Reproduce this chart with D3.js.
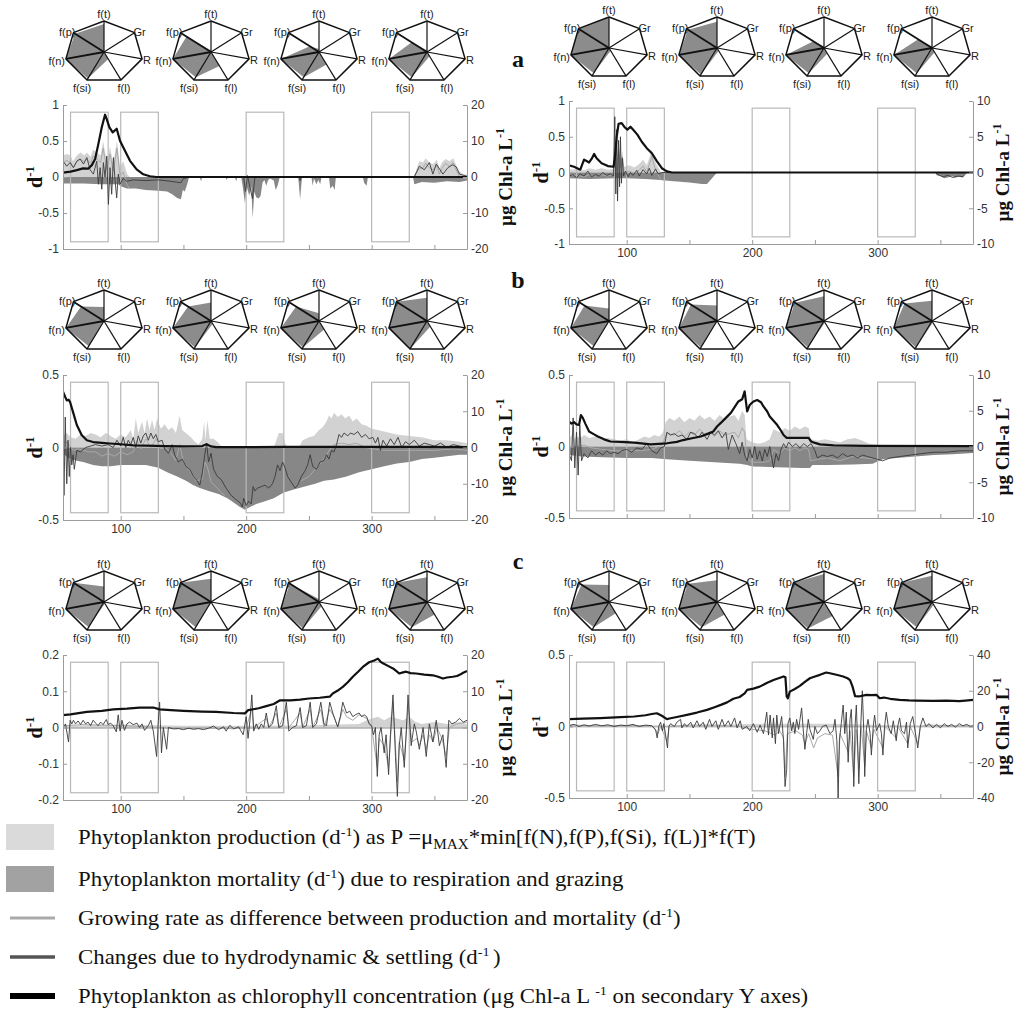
<!DOCTYPE html>
<html>
<head>
<meta charset="utf-8">
<script src="https://cdn.jsdelivr.net/npm/d3@7"></script>
<style>
  body { margin: 0; background: #fff; }
  svg { display: block; }
</style>
</head>
<body>
<svg id="fig" width="1016" height="1012"></svg>
<script>
// ---------- time axis (day of year) ----------
const dayDomain = [54, 376];
const dayTicks = [100, 150, 200, 250, 300, 350];
const boxSpans = [[60, 90], [100, 130], [200, 230], [300, 330]];

// ---------- radar charts: axes order and values (0..1) ----------
const radarAxes = ['f(t)', 'Gr', 'R', 'f(l)', 'f(si)', 'f(n)', 'f(p)'];
const radarA1 = [[0.9,0,0,0.25,0.95,1,0.95],[0.05,0,0,0.5,0.9,1,0.8],[0.1,0,0,0.45,0.9,1,0.3],[0.05,0,0,0.15,0.9,1,0.5]];
const radarA2 = [[1,0,0,0.1,0.9,1,1],[0.85,0,0,0.1,0.95,1,0.95],[0.05,0,0,0.2,0.9,1,0.35],[0.05,0,0,0.15,0.9,1,0.45]];
const radarB1 = [[0.45,0,0,0,0.9,1,0.75],[0.6,0,0,0.1,0.95,1,0.75],[0.25,0,0,0.3,0.95,1,0.75],[0.75,0,0,0.2,1,1,1]];
const radarB2 = [[0.4,0,0,0,0.9,1,0.8],[0.5,0,0,0,0.95,1,0.85],[0.8,0,0,0.05,0.95,1,0.95],[0.65,0,0,0.05,0.95,1,0.9]];
const radarC1 = [[0.5,0,0,0.05,0.9,1,1],[0.75,0,0,0,0.9,1,1],[0.1,0,0,0.15,0.95,1,0.95],[0.8,0,0,0.45,0.9,1,1]];
const radarC2 = [[0.55,0,0,0.4,0.9,1,0.9],[0.7,0,0,0.45,0.9,1,0.95],[0.9,0,0,0.5,0.95,1,1],[0.85,0,0,0.1,0.9,1,1]];

// ---------- scenario a, left ----------
const prodA1 = [[54,0.3],[57,0.32],[60,0.3],[62,0.22],[65,0.3],[68,0.34],[71,0.3],[73,0.34],[76,0.28],[78,0.38],[81,0.34],[84,0.3],[86,0.5],[89,0.2],[91.5,0.42],[94,0.18],[97,0.5],[99.5,0.14],[102,0.22],[105,0.05],[107,0],[334,0],[336,0.12],[338,0.22],[341,0.2],[343,0.26],[346,0.2],[349,0.18],[352,0.24],[354,0.12],[356,0.2],[359,0.25],[362,0.22],[365,0.26],[367,0.18],[370,0.08],[373,0.04],[376,0.03]];
const mortA1 = [[54,-0.09],[70,-0.09],[85,-0.1],[98,-0.1],[100,-0.13],[105,-0.16],[112,-0.16],[120,-0.18],[130,-0.19],[137,-0.2],[141,-0.24],[145,-0.29],[148,-0.31],[149.5,-0.18],[151,-0.2],[153,-0.1],[154.5,0],[163,0],[164,-0.06],[165,0],[183.5,0],[184.5,-0.04],[185.5,0],[191,0],[192,-0.06],[193,0],[196,0],[197,-0.1],[199,-0.36],[200.5,-0.14],[202.5,-0.26],[204,-0.12],[205.2,-0.57],[206.5,-0.2],[208,-0.28],[210,-0.3],[211.5,-0.26],[213,-0.08],[214.5,-0.04],[216,-0.12],[217.5,-0.04],[219,-0.02],[222,-0.05],[223.5,-0.18],[225,-0.12],[226.5,-0.02],[227,0],[241.5,0],[243,-0.31],[244.5,0],[252,0],[253,-0.12],[254,-0.02],[256,-0.1],[257.5,-0.04],[259,-0.1],[260,0],[266,0],[267,-0.16],[269,-0.12],[270.5,-0.18],[271.5,0],[293,0],[294,-0.08],[296,-0.12],[297,0],[333,0],[334,-0.1],[340,-0.07],[350,-0.08],[360,-0.06],[370,-0.07],[376,-0.05]];
const growA1 = [[54,0.2],[57,0.23],[60,0.2],[62.3,0.13],[65,0.21],[68,0.25],[71,0.21],[73,0.25],[76,0.19],[78,0.29],[81,0.25],[84,0.2],[86,0.4],[89,0.1],[91.5,0.32],[94,0.08],[97,0.4],[99.5,0.02],[102,0.07],[105,-0.11],[107,-0.16],null,[334,0.02],[338,0.12],[341,0.13],[343,0.19],[346,0.13],[349,0.1],[352,0.16],[354,0.04],[356,0.12],[359,0.19],[362,0.15],[365,0.2],[367,0.11],[370,0.01],[373,-0.02],[376,-0.02]];
const chgA1 = [[54,0.22],[57,0.15],[59.7,0.2],[62.3,0.13],[65,0.22],[67.6,0.25],[70.3,0.18],[73,0.27],[75.6,0.1],[78.2,0.04],[80.9,0.22],[82.2,-0.1],[83.6,0.13],[84.9,-0.17],[86.2,0.2],[87.5,0],[88.9,0.29],[90.2,-0.38],[91.5,0.13],[92.8,-0.24],[94.2,0.27],[95.5,-0.05],[96.8,-0.29],[98.1,0.04],[99.5,-0.1],[102,-0.02],[104.8,-0.06],[110,-0.04],[120,-0.05],[130,-0.04],[140,-0.06],[148,-0.08],[150,-0.02],[155,0],[198,0],[199.5,-0.2],[201,0.02],[205,-0.3],[207,0],[242,0],[243,-0.05],[244,0],[334,0],[338,0.15],[342,0.1],[346,0.2],[348.8,0.04],[351.5,0.18],[356.8,0.04],[360.8,0.13],[364.7,0.17],[367.4,0.14],[370,0.04],[376,0.01]];
const chlA1 = [[54,1.2],[60,1.5],[65,1.9],[70,2.4],[74,2.3],[77,3.3],[79.6,5],[82.2,9.2],[84.9,13.8],[87.5,17.3],[88.9,16],[91,13.8],[93.6,12.4],[96.8,13.4],[99.5,10],[102.7,7.8],[107.4,4.5],[112.7,2.1],[118,0.75],[123.3,0.2],[128.6,0],[376,0]];

// ---------- scenario a, right ----------
const prodA2 = [[54,0.04],[60,0.05],[66,0.03],[70,0.06],[75,0.04],[80,0.06],[85,0.04],[89,0.05],[90.5,0.3],[92,0.1],[93.5,0.4],[95,0.15],[96.5,0.3],[98,0.08],[102,0.1],[106,0.07],[110,0.12],[113,0.18],[116,0.1],[118,0.2],[120,0.32],[122,0.18],[124,0.1],[126,0.05],[127,0],[376,0]];
const mortA2 = [[54,-0.08],[70,-0.09],[90,-0.08],[100,-0.08],[115,-0.09],[124,-0.1],[135,-0.12],[150,-0.14],[160,-0.16],[164,-0.16],[172,0],[346,0],[347,-0.04],[350,-0.05],[353,-0.08],[356,-0.07],[359,-0.05],[362,-0.07],[365,-0.06],[368,-0.07],[369.5,-0.02],[371,0],[376,0]];
const growA2 = [[54,-0.04],[60,-0.04],[66,-0.06],[70,-0.03],[75,-0.05],[80,-0.03],[85,-0.05],[89,-0.03],[90.5,0.22],[92,0.02],[93.5,0.32],[95,0.07],[96.5,0.22],[98,0],[102,0.02],[106,-0.01],[110,0.03],[113,0.09],[116,0.01],[118,0.11],[120,0.23],[122,0.09],[124,0],[126,-0.06],[127,-0.1]];
const chgA2 = [[54,-0.05],[57,-0.03],[60,-0.07],[63,-0.02],[66,-0.05],[69,0.02],[72,-0.06],[75,-0.03],[78,-0.05],[81,0],[84,-0.04],[87,-0.02],[89.5,-0.05],[90.5,0.78],[91.3,-0.3],[92,0.6],[92.7,-0.4],[93.5,0.45],[94.3,-0.2],[95,0.5],[95.8,-0.15],[96.5,0.2],[97.5,-0.05],[99,0.02],[101,-0.06],[103,0],[105,-0.04],[108,0.03],[110,-0.05],[113,0.04],[116,-0.02],[118,0.06],[120,-0.04],[123,0.05],[125,-0.02],[128,0],[132,0],[346,0],[348,-0.03],[352,-0.06],[356,-0.04],[360,-0.07],[364,-0.05],[368,-0.06],[371,0],[376,0]];
const chlA2 = [[54,1.0],[58,0.8],[63,0.4],[66,1.8],[68,1.6],[70,1.4],[72,1.9],[74,2.6],[76,2.0],[80,1.3],[85,0.9],[89.5,0.8],[90.5,2.0],[92,5.0],[93.5,6.8],[96,6.9],[98,6.4],[100.5,6.0],[103,6.4],[105,6.0],[108.5,5.3],[112,4.3],[116,3.4],[120,2.7],[124,1.6],[128,0.6],[132,0.15],[136,0],[376,0]];

// ---------- scenario b, left ----------
const prodB1 = [[54,0.08],[57,0.1],[60,0.07],[64,0.06],[68,0.09],[72,0.08],[76,0.1],[80,0.09],[84,0.07],[88,0.1],[92,0.08],[96,0.06],[100,0.09],[104,0.07],[108,0.12],[110,0.06],[112,0.2],[114,0.1],[117,0.18],[119,0.1],[121,0.2],[123,0.12],[125,0.19],[127,0.12],[129,0.2],[132,0.13],[135,0.16],[138,0.12],[141,0.14],[144,0.1],[147,0.22],[149,0.12],[152,0.1],[156,0.07],[159,0.04],[162,0.02],[165,0.06],[166.5,0.18],[167.5,0.05],[169,0.19],[171,0.06],[174,0.06],[177,0.04],[180,0.01],[183,0],[222,0],[224,0.05],[226,0.1],[229,0.1],[231,0.03],[233,0],[242,0],[245,0.05],[250,0.07],[254,0.08],[258,0.12],[261,0.14],[264,0.18],[266,0.22],[268,0.2],[270,0.24],[273,0.21],[276,0.23],[279,0.2],[282,0.22],[285,0.18],[288,0.2],[292,0.16],[296,0.15],[300,0.13],[305,0.12],[310,0.11],[315,0.1],[320,0.09],[330,0.08],[340,0.07],[350,0.05],[360,0.05],[370,0.04],[376,0.03]];
const mortB1 = [[54,-0.04],[58,-0.07],[64,-0.09],[70,-0.1],[78,-0.12],[85,-0.13],[92,-0.13],[100,-0.12],[110,-0.12],[120,-0.12],[130,-0.14],[137,-0.17],[145,-0.2],[152,-0.23],[158,-0.26],[163,-0.28],[170,-0.3],[178,-0.32],[185,-0.35],[190,-0.38],[195,-0.41],[199,-0.43],[203,-0.41],[208,-0.39],[215,-0.37],[222,-0.35],[230,-0.31],[238,-0.29],[246,-0.27],[255,-0.25],[262,-0.23],[270,-0.22],[280,-0.2],[290,-0.17],[300,-0.15],[310,-0.13],[320,-0.11],[330,-0.1],[340,-0.08],[350,-0.07],[360,-0.06],[370,-0.05],[376,-0.05]];
const growB1 = [[54,0.04],[58,0.03],[62,-0.02],[66,-0.01],[70,-0.02],[75,-0.03],[80,-0.03],[85,-0.06],[90,-0.04],[95,-0.06],[100,-0.03],[105,-0.05],[110,-0.03],[113,0.05],[116,-0.01],[120,0.06],[124,0],[128,0.06],[132,-0.01],[136,0],[140,-0.04],[144,-0.09],[147,0.02],[150,-0.1],[155,-0.16],[160,-0.23],[165,-0.22],[167,-0.1],[169,-0.13],[172,-0.24],[176,-0.27],[180,-0.31],[183,-0.33],null,[244,-0.23],[250,-0.2],[255,-0.15],[260,-0.1],[264,-0.05],[267,-0.01],[270,0.02],[276,0.03],[282,0.02],[288,0.03],[295,0],[302,-0.01],[310,-0.02],[320,-0.02],[335,-0.02],[350,-0.02],[365,-0.01],[376,-0.02]];
const chgB1 = [[54,0],[54.8,-0.33],[55.8,0.21],[57,-0.25],[58,0.05],[59,-0.2],[60,0],[61,-0.12],[62,-0.05],[63,-0.15],[65,-0.02],[68,-0.03],[72,0],[76,0.01],[80,0.02],[85,0.01],[90,0.02],[94,0],[97,0.05],[100,0.01],[102,0.07],[104,0],[106,0.05],[108,0.02],[110,0.07],[112,0],[114,0.08],[116,0.03],[118,0.08],[120,0.1],[122,0.05],[124,0.1],[126,0.06],[128,0.09],[130,0.04],[133,0.05],[135,-0.01],[138,-0.04],[141,0.02],[143,-0.05],[146,-0.1],[149,-0.08],[152,-0.13],[155,-0.15],[158,-0.2],[161,-0.23],[163,-0.26],[165,-0.18],[167,-0.05],[168.5,0.03],[170,-0.1],[172,-0.04],[174,-0.15],[177,-0.2],[180,-0.22],[184,-0.28],[188,-0.33],[192,-0.36],[195,-0.38],[197,-0.41],[198,-0.35],[200,-0.4],[202,-0.37],[204,-0.39],[205.5,-0.27],[207,-0.3],[209,-0.28],[212,-0.27],[215,-0.26],[218,-0.28],[221,-0.25],[223,-0.2],[225,-0.12],[227,-0.16],[229,-0.1],[231,-0.14],[233,-0.2],[236,-0.24],[239,-0.28],[241,-0.26],[244,-0.2],[247,-0.16],[249,-0.12],[251,-0.05],[253,-0.13],[256,-0.15],[259,-0.1],[262,-0.09],[264,-0.05],[266,-0.08],[268,-0.02],[270,-0.03],[272,0.02],[274,0.09],[276,0.07],[278,0.1],[281,0.08],[283,0.1],[286,0.09],[289,0.11],[292,0.07],[295,0.09],[298,0.06],[301,0.07],[303,0.03],[305,0.07],[307,-0.02],[309,0.05],[312,0.01],[315,0.06],[318,0.02],[321,0.07],[324,0],[327,0.04],[330,0.02],[334,0.05],[338,0.01],[342,0.03],[346,0.02],[350,0.01],[355,0.03],[360,0],[365,0.02],[370,0.01],[376,0]];
const chlB1 = [[54,15.4],[55.7,14],[57,13],[58.4,13.2],[59.7,12.5],[62.3,9.4],[65,6.2],[69,3.4],[73,2],[78,1.5],[85,1.3],[91.5,1.1],[100,0.9],[110,0.6],[120,0.5],[136,0.4],[150,0.3],[165,0.4],[168.4,0.9],[172,0.3],[176,0.1],[200,0.1],[230,0.15],[260,0.15],[300,0.2],[340,0.15],[376,0.1]];

// ---------- scenario b, right ----------
const prodB2 = [[54,0.05],[56,0.08],[58,0.05],[60,0.07],[63,0.06],[66,0.08],[70,0.06],[75,0.07],[80,0.05],[85,0.06],[90,0.05],[95,0.04],[100,0.05],[105,0.03],[110,0.05],[114,0.07],[118,0.06],[122,0.08],[126,0.07],[129,0.1],[131,0.17],[134,0.2],[138,0.18],[142,0.21],[146,0.17],[150,0.2],[154,0.18],[158,0.22],[162,0.19],[166,0.21],[170,0.18],[174,0.22],[178,0.19],[182,0.21],[186,0.22],[189,0.18],[192,0.25],[194,0.22],[195.5,0.05],[200,0.03],[205,0.02],[210,0.03],[214,0.05],[217,0.12],[222,0.1],[226,0.13],[230,0.11],[234,0.14],[238,0.12],[242,0.14],[245,0.13],[246.5,0.05],[252,0.04],[258,0.05],[264,0.04],[270,0.03],[276,0.05],[282,0.06],[288,0.04],[293,0.02],[300,0.01],[376,0.005]];
const mortB2 = [[54,-0.06],[65,-0.07],[80,-0.075],[100,-0.08],[120,-0.08],[132,-0.09],[150,-0.1],[170,-0.11],[190,-0.12],[196,-0.13],[200,-0.14],[220,-0.145],[240,-0.15],[246,-0.15],[248,-0.13],[260,-0.13],[280,-0.125],[296,-0.12],[304,-0.09],[315,-0.08],[330,-0.07],[345,-0.06],[360,-0.055],[376,-0.045]];
const growB2 = [[54,-0.01],[60,0],[66,0.01],[72,-0.01],[80,-0.02],[90,-0.03],[100,-0.03],[110,-0.03],[120,-0.02],[128,0.01],[132,0.09],[138,0.08],[142,0.11],[146,0.07],[150,0.1],[154,0.08],[158,0.12],[162,0.09],[166,0.1],[170,0.07],[174,0.11],[178,0.08],[182,0.09],[186,0.1],[189,0.06],[192,0.13],[194,0.1],[195.5,-0.08],[200,-0.11],[210,-0.11],[214,-0.1],[217,-0.02],[222,-0.05],[226,-0.01],[230,-0.03],[234,-0.01],[238,-0.03],[242,-0.01],[245,-0.02],[246.5,-0.1],[252,-0.09],[260,-0.08],[270,-0.1],[280,-0.07],[290,-0.08],[300,-0.09]];
const chgB2 = [[54,-0.05],[56,-0.1],[57.3,0.2],[58.6,-0.15],[60,0.1],[61.3,-0.2],[62.6,0.15],[64,-0.1],[66,-0.05],[69,-0.08],[72,-0.03],[75,-0.06],[78,-0.04],[81,-0.06],[84,-0.03],[87,-0.05],[90,-0.04],[93,-0.05],[96,-0.03],[100,-0.02],[104,-0.04],[108,-0.01],[112,-0.02],[116,0.02],[120,-0.03],[124,-0.05],[127,-0.01],[130,0],[132,0.1],[135,0.08],[138,0.09],[141,0.07],[144,0.08],[148,0.05],[151,0.1],[154,0.09],[157,0.06],[160,0.1],[164,0.05],[167,0.1],[170,0.08],[173,0.11],[176,0.06],[179,0.1],[181,-0.02],[184,0.08],[187,0.02],[190,-0.05],[192,0.03],[194,-0.06],[196,-0.1],[198,-0.02],[200,-0.08],[202,0],[204,-0.09],[206,-0.03],[208,-0.1],[210,-0.02],[212,-0.07],[214,0],[217,-0.15],[219,-0.05],[221,-0.1],[223,-0.02],[225,0.02],[227,-0.01],[229,0.03],[232,0],[235,0.02],[238,-0.01],[241,0.02],[244,0],[247,0.02],[250,-0.03],[252,-0.08],[256,-0.06],[260,-0.07],[264,-0.06],[268,-0.08],[272,-0.05],[276,-0.07],[280,-0.06],[284,-0.08],[288,-0.06],[292,-0.07],[296,-0.08],[300,-0.09],[304,-0.1],[310,-0.08],[318,-0.07],[326,-0.06],[335,-0.05],[345,-0.04],[355,-0.04],[365,-0.03],[376,-0.03]];
const chlB2 = [[54,3.5],[56,3.2],[58,3.4],[60,3.1],[62,3.0],[63.5,4.4],[65,4.0],[67,3.2],[70,2.1],[74,1.7],[77,1.4],[82,1.0],[87,0.7],[95,0.65],[106,0.55],[119,0.3],[132,0.45],[140,0.65],[145,0.9],[152,1.15],[159,1.4],[165,1.8],[169,2.1],[172,2.8],[175,3.3],[179,4.0],[183,4.7],[186,5.5],[189,6.3],[192,6.6],[194,7.7],[196,4.9],[198,5.8],[201,6.3],[204,6.5],[207,6.2],[209,5.6],[212,4.9],[214,4.2],[217,3.6],[220,3.0],[223,2.2],[225,1.6],[227.5,1.2],[245,1.2],[247,0.7],[250,0.5],[254,0.3],[265,0.15],[291,0.1],[376,0.05]];

// ---------- scenario c, left ----------
const prodC1 = [[54,0.005],[100,0.008],[150,0.005],[200,0.005],[250,0.006],[290,0.01],[296,0.02],[300,0.025],[305,0.03],[310,0.02],[315,0.03],[320,0.025],[325,0.02],[330,0.03],[335,0.015],[340,0.01],[350,0.015],[360,0.01],[370,0.015],[376,0.01]];
const mortC1 = [[54,-0.003],[376,-0.003]];
const growC1 = [[54,0.005],[70,0.008],[90,0.006],[110,0.004],[130,0],[150,-0.003],[170,-0.002],[190,-0.003],[200,0],[204.5,0.05],[206,0],[216,0.025],[218,0],[224,0.04],[226,0],[232,0.05],[234,0],[243,0.04],[245,0],[251,0.05],[253,0],[259.5,0.05],[262,0],[266.6,0.05],[270,0.03],[273,0],[277,0.05],[280,0.03],[285,0.02],[290,0.035],[296,0.025],[300,0],[304.5,-0.11],[306,-0.03],[310,-0.05],[313.5,-0.11],[315,-0.03],[317,0.07],[319,-0.05],[320.5,-0.15],[322,-0.04],[326,-0.09],[329,0.06],[332,-0.04],[336,-0.03],[338,-0.05],[341,-0.02],[343.5,-0.06],[346,-0.02],[349,-0.04],[352,0],[356,-0.03],[359.4,-0.08],[362,0],[368,0.01],[376,0.015]];
const chgC1 = [[54,0],[56,0.01],[58.4,-0.04],[59.7,0.02],[61,0.01],[62.3,0.02],[64,0.01],[66,0.018],[68,0.008],[70,0.02],[72,0.01],[74,0.015],[76,0.005],[78,0.02],[80,0.012],[82,0.005],[84,0.015],[86,0.008],[88.5,0.022],[90,0.008],[92,0.012],[94,0.005],[96.5,-0.012],[98,0.035],[99.5,-0.01],[101,0.02],[103,-0.008],[105,0.01],[107,0.015],[110,0.008],[113,0.012],[115,0],[117,0.01],[119,-0.008],[122,0.005],[124,0.02],[126,-0.01],[128.6,-0.08],[130,0.02],[131,0.07],[132.5,-0.07],[134,0],[136.6,-0.06],[138,0],[142,-0.004],[146,-0.003],[150,-0.006],[154,-0.002],[158,-0.005],[162,-0.003],[166,-0.006],[170,-0.002],[174,0.004],[178,-0.006],[182,0.002],[184,-0.01],[187,0.006],[190,-0.004],[194,0.002],[197.6,-0.02],[200,0.03],[201.5,-0.03],[203,0.02],[204.5,0.09],[206,-0.01],[208,0.01],[210,-0.005],[212,0.01],[214,0],[216,0.04],[218,0],[221,0.01],[224,0.06],[226,0],[229,0.005],[232,0.07],[234,-0.01],[237,0],[240,0.005],[243,0.055],[245,0],[248,0.005],[251,0.07],[253,0],[256,0.01],[259.5,0.07],[262,0.01],[264,0.005],[266.6,0.07],[269,0.04],[271,0.02],[273,0.002],[275,0.03],[277,0.07],[280,0.04],[282.5,0.045],[285,0.03],[287,0.035],[290,0.04],[292,0.03],[294,0.035],[296,0.03],[298,0.01],[300,0.005],[301.5,-0.02],[303,0],[304.5,-0.135],[306,-0.02],[307.5,0],[310,-0.07],[311.5,-0.02],[313.5,-0.13],[315,-0.02],[317,0.09],[319,-0.08],[320.5,-0.19],[322,-0.05],[323.6,0],[326,-0.11],[327.5,-0.02],[329,0.09],[331.5,-0.05],[334,0.01],[335.5,-0.01],[338,-0.06],[341,0],[343.5,-0.08],[346,0.01],[348.8,-0.04],[351.5,0.02],[354,-0.05],[356.8,-0.02],[359.4,-0.11],[361.5,0.02],[364,0.01],[367,0.015],[370,0.025],[373,0.015],[376,0.02]];
const chlC1 = [[54,3.4],[60,3.6],[73,4.3],[85,4.6],[94,5],[105,5.2],[115,5.5],[126,5.5],[131,5.0],[140,4.8],[150,4.6],[165,4.4],[176,4.3],[190,4.0],[199,3.9],[201.6,4.8],[210,5.3],[216,5.9],[222,6.5],[227,7.5],[235,7.5],[243,7.7],[250,8],[258.6,8.2],[266.6,8.5],[269,9.4],[273,10.2],[277,11.2],[281,12.5],[285,14],[289,15.3],[293,16.7],[298,18],[302,18.5],[305,19],[307,18.2],[309,17.7],[313,17],[317,16.3],[320,15.5],[322,14.9],[325,15.2],[327.6,15.4],[331,15],[335.5,14.9],[342,14.6],[348.8,14.4],[353,14],[356.8,13.5],[360,13.8],[364.7,14],[368,14.2],[371,14.7],[373,15.1],[376,15.6]];

// ---------- scenario c, right ----------
const prodC2 = [[54,0.005],[120,0.008],[160,0.01],[180,0.012],[190,0.015],[200,0.018],[220,0.02],[240,0.02],[260,0.02],[280,0.015],[300,0.01],[330,0.008],[376,0.005]];
const mortC2 = [[54,-0.005],[376,-0.005]];
const growC2 = [[54,0.01],[80,0.005],[100,0.008],[120,0.005],[125,-0.05],[127,0],[132,-0.1],[134,0],[150,0.01],[170,0.01],[190,0],[200,-0.02],[210,-0.03],[218,-0.06],[222,-0.03],[225,-0.08],[226.2,-0.35],[228,-0.05],[235,-0.03],[240,-0.06],[242,-0.12],[245,-0.05],[249,-0.15],[252,-0.08],[258,-0.05],[264,-0.06],[268.5,-0.35],[270,-0.05],[276.5,-0.18],[278,-0.03],[281,-0.35],[283,-0.02],[285,-0.3],[287,0],[289.7,-0.28],[291,-0.03],[295,-0.15],[297,-0.02],[304.2,-0.15],[306,0],[314.8,-0.08],[316,0],[324,-0.12],[326,0],[332,-0.12],[334,0],[340,0.01],[360,0.005],[376,0.005]];
const chgC2 = [[54,0.005],[58,0.015],[62,0],[66,0.012],[70,0.003],[75,0.015],[80,0.005],[85,0.012],[90,0],[95,0.01],[100,0.005],[105,0.015],[110,0],[115,0.01],[120,0.005],[123,-0.02],[124.3,-0.08],[125.5,0],[127,0.03],[128.5,-0.03],[129.6,0.02],[131,-0.06],[132.5,-0.15],[133.6,0],[135,0.02],[138,0],[140,0.03],[142.9,0.05],[144,-0.01],[146,0.02],[148,0],[151,0.03],[153,-0.01],[156,0.04],[158,0],[161,0.03],[163,-0.02],[166,0.05],[168,0],[171,0.04],[173,-0.02],[176,0.05],[178,0],[181,0.04],[183,0],[186,0.06],[188,-0.01],[190.5,0.04],[192,-0.02],[195.8,0],[198,-0.03],[201,0.02],[204,-0.04],[206.3,0.01],[209,-0.05],[211.6,0.1],[213,-0.06],[214.3,0.08],[216,-0.08],[217,0.06],[218.5,-0.12],[219.6,0.08],[221,-0.05],[223.5,0.07],[225,-0.1],[226.2,-0.42],[227.5,-0.3],[228.5,0.02],[230,0.06],[231.5,-0.03],[232.8,0.03],[234,-0.05],[235.4,0.05],[237,-0.02],[239.4,0.13],[240.5,0],[242,-0.16],[243.5,-0.04],[244.7,0.05],[246,-0.02],[248.7,-0.09],[250,0],[252,-0.05],[254,-0.03],[256,0],[259,0.01],[262,-0.05],[264.5,-0.03],[266,0.05],[267.5,-0.1],[268.5,-0.5],[269.5,-0.1],[271,0.02],[272.5,0.15],[273.8,-0.05],[275,0.1],[276.5,-0.25],[278,0.05],[279,0.12],[280,-0.1],[281,-0.42],[282,0],[283,0.15],[284,-0.1],[285,-0.4],[286.5,0],[287.8,0.25],[289,-0.05],[289.7,-0.35],[291,-0.02],[292.3,0.05],[294,-0.05],[295,-0.2],[296.5,0],[297.6,0.08],[299,-0.03],[301.6,0.02],[303,-0.05],[304.2,-0.2],[305.5,0],[306.9,0.1],[308.5,0],[310.8,-0.05],[312.5,0.04],[314.8,-0.1],[316,0],[317.5,0.06],[319,-0.03],[321.4,-0.05],[323,0.03],[324,-0.15],[326,0.02],[328,0.07],[330,-0.04],[332,-0.15],[334,0],[336,0.06],[338.6,0],[341,0.02],[344,-0.01],[347,0.015],[350,-0.01],[353,0.02],[356,0],[359,0.015],[362,-0.005],[365,0.02],[368,0.005],[371,0.015],[374,0],[376,0.005]];
const chlC2 = [[54,4.1],[65,4.4],[79,4.7],[95,5.2],[106,5.6],[115,6.3],[120,7.0],[124,7.4],[128,6.0],[132,4.1],[135,4.6],[140,5.3],[148,6.5],[156,7.8],[164,9.3],[170,10.8],[175,12.1],[180,13.5],[185,15.5],[190,16.5],[194,18.5],[196,20.5],[201,21.2],[206,22.3],[212,24.5],[217,26],[221,27],[225,28],[226.5,27.5],[227.5,16.8],[228.5,15.8],[230,19.5],[234,21],[238,22.7],[242,25],[246,27],[250,28],[254,28.9],[259,30.2],[262,29.8],[264.5,29.4],[268,28.8],[272.5,28],[276,27],[278,26],[280,22.3],[282,17],[285,16.8],[291,17.7],[295,17.5],[299,17.7],[301.6,15.8],[305,16.2],[310,15.5],[317.5,14.9],[325,14.6],[330.7,14.5],[344,14.3],[355,14.5],[365,14.2],[370,14.5],[376,14.9]];

// ---------- colours ----------
const PROD_FILL = '#d2d2d2';
const MORT_FILL = '#878787';
const GROW_STROKE = '#a9a9a9';
const CHG_STROKE = '#3a3a3a';
const CHL_STROKE = '#111';
const AXIS_STROKE = '#9c9c9c';
const BOX_STROKE = '#b9b9b9';
const RADAR_FILL = '#8c8c8c';

const svg = d3.select('#fig');
const fmt = d => String(d);

const panels = [
  {x0: 63, x1: 467, y0: 105, y1: 249, yDom: [-1, 1], yTicks: [-1, -0.5, 0, 0.5, 1], cDom: [-20, 20], cTicks: [-20, -10, 0, 10, 20], xLab: false, rOff: 45,
   prod: prodA1, mort: mortA1, grow: growA1, chg: chgA1, chl: chlA1},
  {x0: 569, x1: 973, y0: 101, y1: 244, yDom: [-1, 1], yTicks: [-1, -0.5, 0, 0.5, 1], cDom: [-10, 10], cTicks: [-10, -5, 0, 5, 10], xLab: true, rOff: 36,
   prod: prodA2, mort: mortA2, grow: growA2, chg: chgA2, chl: chlA2},
  {x0: 63, x1: 467, y0: 375, y1: 520, yDom: [-0.5, 0.5], yTicks: [-0.5, 0, 0.5], cDom: [-20, 20], cTicks: [-20, -10, 0, 10, 20], xLab: true, rOff: 45,
   prod: prodB1, mort: mortB1, grow: growB1, chg: chgB1, chl: chlB1},
  {x0: 569, x1: 973, y0: 375, y1: 518, yDom: [-0.5, 0.5], yTicks: [-0.5, 0, 0.5], cDom: [-10, 10], cTicks: [-10, -5, 0, 5, 10], xLab: false, rOff: 36,
   prod: prodB2, mort: mortB2, grow: growB2, chg: chgB2, chl: chlB2},
  {x0: 63, x1: 467, y0: 655, y1: 800, yDom: [-0.2, 0.2], yTicks: [-0.2, -0.1, 0, 0.1, 0.2], cDom: [-20, 20], cTicks: [-20, -10, 0, 10, 20], xLab: true, rOff: 45,
   prod: prodC1, mort: mortC1, grow: growC1, chg: chgC1, chl: chlC1},
  {x0: 569, x1: 973, y0: 655, y1: 798, yDom: [-0.5, 0.5], yTicks: [-0.5, 0, 0.5], cDom: [-40, 40], cTicks: [-40, -20, 0, 20, 40], xLab: true, rOff: 36,
   prod: prodC2, mort: mortC2, grow: growC2, chg: chgC2, chl: chlC2}
];

const defs = svg.append('defs');

function styleAxis(sel) {
  sel.attr('font-family', '"Liberation Sans", Arial, sans-serif').attr('font-size', 12);
  sel.selectAll('path.domain').attr('stroke', AXIS_STROKE).attr('stroke-width', 1);
  sel.selectAll('.tick line').attr('stroke', AXIS_STROKE).attr('stroke-width', 1);
  sel.selectAll('.tick text').attr('fill', '#333');
}

panels.forEach((p, i) => {
  const x = d3.scaleLinear().domain(dayDomain).range([p.x0, p.x1]);
  const y = d3.scaleLinear().domain(p.yDom).range([p.y1, p.y0]);
  const y2 = d3.scaleLinear().domain(p.cDom).range([p.y1, p.y0]);

  const clipId = 'plotclip' + i;
  defs.append('clipPath').attr('id', clipId)
    .append('rect').attr('x', p.x0).attr('y', p.y0 - 3)
    .attr('width', p.x1 - p.x0).attr('height', p.y1 - p.y0 + 6);

  const g = svg.append('g');
  const plot = g.append('g').attr('clip-path', `url(#${clipId})`);

  const area = d3.area().x(d => x(d[0])).y0(y(0)).y1(d => y(d[1]));
  plot.append('path').datum(p.prod).attr('d', area).attr('fill', PROD_FILL);
  plot.append('path').datum(p.mort).attr('d', area).attr('fill', MORT_FILL);

  // highlighted periods
  const top = p.yDom[1] * 0.9, bot = p.yDom[0] * 0.9;
  plot.selectAll('rect.period').data(boxSpans).join('rect')
    .attr('class', 'period')
    .attr('x', d => x(d[0])).attr('width', d => x(d[1]) - x(d[0]))
    .attr('y', y(top)).attr('height', y(bot) - y(top))
    .attr('fill', 'none').attr('stroke', BOX_STROKE).attr('stroke-width', 1.2);

  const line = d3.line().defined(d => d !== null).x(d => x(d[0])).y(d => y(d[1]));
  plot.append('path').datum(p.grow).attr('d', line)
    .attr('fill', 'none').attr('stroke', GROW_STROKE).attr('stroke-width', 1);
  plot.append('path').datum(p.chg).attr('d', line)
    .attr('fill', 'none').attr('stroke', CHG_STROKE).attr('stroke-width', 0.9);

  const cline = d3.line().x(d => x(d[0])).y(d => y2(d[1]));
  plot.append('path').datum(p.chl).attr('d', cline)
    .attr('fill', 'none').attr('stroke', CHL_STROKE).attr('stroke-width', 2.2)
    .attr('stroke-linejoin', 'round');

  // axes
  const xAxis = d3.axisBottom(x).tickValues(dayTicks).tickSizeInner(-4).tickSizeOuter(0).tickPadding(4)
    .tickFormat(d => (p.xLab && d % 100 === 0) ? d : '');
  g.append('g').attr('transform', `translate(0,${p.y1})`).call(xAxis).call(styleAxis);

  const yAxis = d3.axisLeft(y).tickValues(p.yTicks).tickSizeInner(-4).tickSizeOuter(0).tickPadding(4).tickFormat(fmt);
  g.append('g').attr('transform', `translate(${p.x0},0)`).call(yAxis).call(styleAxis);

  const cAxis = d3.axisRight(y2).tickValues(p.cTicks).tickSizeInner(-4).tickSizeOuter(0).tickPadding(4).tickFormat(fmt);
  g.append('g').attr('transform', `translate(${p.x1},0)`).call(cAxis).call(styleAxis);

  // axis titles
  const midY = (p.y0 + p.y1) / 2;
  const lt = g.append('text')
    .attr('transform', `translate(${p.x0 - 21},${midY}) rotate(-90)`)
    .attr('text-anchor', 'middle')
    .attr('font-family', '"Liberation Serif", "Times New Roman", serif')
    .attr('font-weight', 'bold').attr('font-size', 20).attr('fill', '#111');
  lt.append('tspan').text('d');
  lt.append('tspan').attr('font-size', 13).attr('dy', -8).text('-1');

  const rt = g.append('text')
    .attr('transform', `translate(${p.x1 + p.rOff},${midY}) rotate(-90)`)
    .attr('text-anchor', 'middle')
    .attr('font-family', '"Liberation Serif", "Times New Roman", serif')
    .attr('font-weight', 'bold').attr('font-size', 19).attr('fill', '#111');
  rt.append('tspan').text('\u00b5g Chl-a L');
  rt.append('tspan').attr('font-size', 12).attr('dy', -8).text('-1');
});

// ---------- radar charts ----------
const RY = 31, SX = 1.26;
const rScale = d3.scaleLinear().domain([0, 1]).range([0, RY]);
const angle = i => i * 2 * Math.PI / 7;
const radial = d3.lineRadial().angle((d, i) => angle(i)).radius(d => rScale(d)).curve(d3.curveLinearClosed);
const labelPlace = [
  {anchor: 'middle', dx: 0, dy: -3},
  {anchor: 'start', dx: -1, dy: 3},
  {anchor: 'start', dx: 1, dy: 5},
  {anchor: 'middle', dx: 3, dy: 12},
  {anchor: 'middle', dx: -5, dy: 12},
  {anchor: 'end', dx: -1, dy: 6},
  {anchor: 'end', dx: 2, dy: 3}
];

function drawRadar(cx, cy, vals) {
  const g = svg.append('g').attr('transform', `translate(${cx},${cy}) scale(${SX},1)`);
  g.append('path').datum(vals).attr('d', radial).attr('fill', RADAR_FILL);
  g.append('path').datum(radarAxes.map(() => 1)).attr('d', radial)
    .attr('fill', 'none').attr('stroke', '#111').attr('stroke-width', 1.5)
    .attr('vector-effect', 'non-scaling-stroke').attr('stroke-linejoin', 'round');
  g.selectAll('line.spoke').data(radarAxes).join('line').attr('class', 'spoke')
    .attr('x1', 0).attr('y1', 0)
    .attr('x2', (d, i) => rScale(1) * Math.sin(angle(i)))
    .attr('y2', (d, i) => -rScale(1) * Math.cos(angle(i)))
    .attr('stroke', '#111').attr('stroke-width', (d, i) => (i === 5 || i === 6) ? 1.8 : 1.2)
    .attr('vector-effect', 'non-scaling-stroke');
  svg.append('g').selectAll('text').data(radarAxes).join('text')
    .attr('x', (d, i) => cx + SX * rScale(1) * Math.sin(angle(i)) + labelPlace[i].dx)
    .attr('y', (d, i) => cy - rScale(1) * Math.cos(angle(i)) + labelPlace[i].dy)
    .attr('text-anchor', (d, i) => labelPlace[i].anchor)
    .attr('font-family', '"Liberation Sans", Arial, sans-serif')
    .attr('font-size', 11).attr('fill', '#222')
    .text(d => d);
}

const radarXLeft = [104, 211, 319, 427];
const radarXRight = [609, 717, 824, 932];
const radarRows = [
  {y: 52, xs: radarXLeft, vals: radarA1}, {y: 48, xs: radarXRight, vals: radarA2},
  {y: 321, xs: radarXLeft, vals: radarB1}, {y: 321, xs: radarXRight, vals: radarB2},
  {y: 602, xs: radarXLeft, vals: radarC1}, {y: 602, xs: radarXRight, vals: radarC2}
];
radarRows.forEach(r => r.vals.forEach((v, k) => drawRadar(r.xs[k], r.y, v)));

// ---------- scenario letters ----------
[['a', 67], ['b', 288], ['c', 569]].forEach(([t, yy]) => {
  svg.append('text').attr('x', 518).attr('y', yy).attr('text-anchor', 'middle')
    .attr('font-family', '"Liberation Serif", "Times New Roman", serif')
    .attr('font-weight', 'bold').attr('font-size', 24).attr('fill', '#111').text(t);
});

// ---------- legend ----------
const legendRows = [
  {kind: 'rect', fill: '#dadada', y: 844, parts: [['Phytoplankton production (d', ''], ['-1', 'sup'], [') as P =\u03bc', ''], ['MAX', 'sub'], ['*min[f(N),f(P),f(Si), f(L)]*f(T)', '']]},
  {kind: 'rect', fill: '#a2a2a2', y: 886, parts: [['Phytoplankton mortality (d', ''], ['-1', 'sup'], [') due to respiration and grazing', '']]},
  {kind: 'line', stroke: '#aaaaaa', w: 3, y: 925, parts: [['Growing rate as difference between production and mortality (d', ''], ['-1', 'sup'], [')', '']]},
  {kind: 'line', stroke: '#555555', w: 3.5, y: 964, parts: [['Changes due to hydrodynamic & settling (d', ''], ['-1 ', 'sup'], [')', '']]},
  {kind: 'line', stroke: '#000000', w: 6, y: 1003, parts: [['Phytoplankton as chlorophyll concentration (\u03bcg Chl-a L ', ''], ['-1', 'sup'], [' on secondary Y axes)', '']]}
];

const legendTexts = [];
legendRows.forEach(row => {
  if (row.kind === 'rect') {
    svg.append('rect').attr('x', 6).attr('y', row.y - 20).attr('width', 48).attr('height', 26).attr('fill', row.fill);
  } else {
    svg.append('line').attr('x1', 10).attr('x2', 55).attr('y1', row.y - 7).attr('y2', row.y - 7)
      .attr('stroke', row.stroke).attr('stroke-width', row.w);
  }
  const g = svg.append('g').attr('transform', `translate(78,${row.y})`);
  const t = g.append('text').attr('font-family', '"Liberation Serif", "Times New Roman", serif')
    .attr('font-size', 21).attr('fill', '#111');
  let shift = 0;
  row.parts.forEach(([s, kind]) => {
    const ts = t.append('tspan').text(s);
    let target = 0;
    if (kind === 'sup') { ts.attr('font-size', 13); target = -8; }
    if (kind === 'sub') { ts.attr('font-size', 14); target = 5; }
    ts.attr('dy', target - shift);
    shift = target;
  });
  legendTexts.push({g, t});
});
// condense legend text to the figure's line length
const w0 = legendTexts[0].t.node().getComputedTextLength();
const sx = 678 / w0;
legendTexts.forEach((lt, k) => lt.g.attr('transform', `translate(78,${legendRows[k].y}) scale(${sx},1)`));
</script>
</body>
</html>
